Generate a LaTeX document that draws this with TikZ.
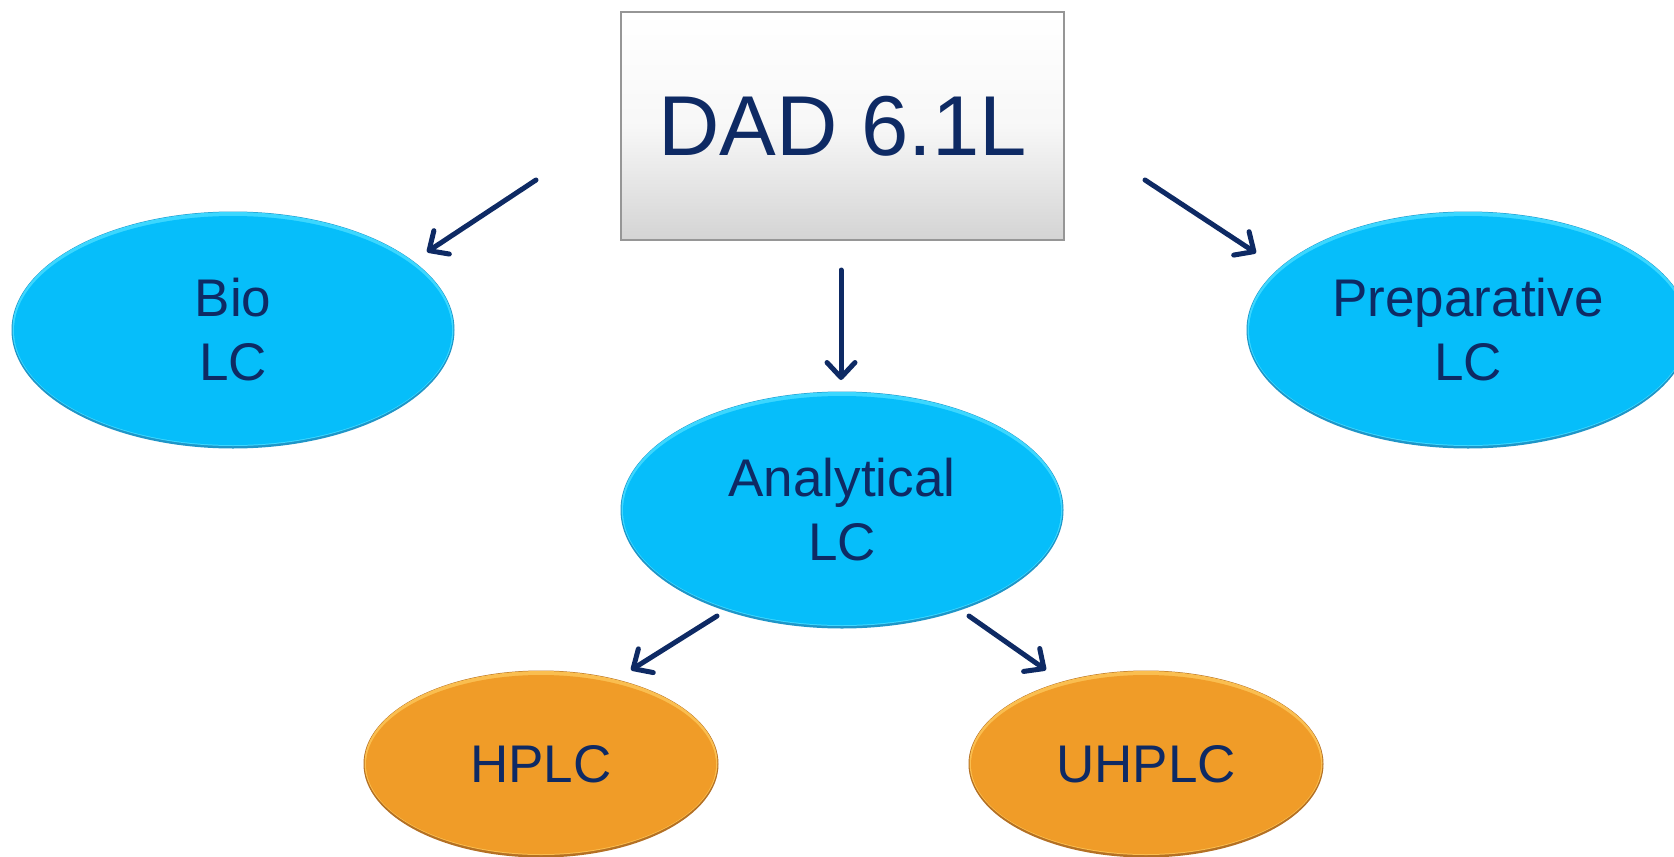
\documentclass[tikz,border=0pt]{standalone}
\usepackage{fontspec}
\setmainfont{Liberation Sans}
\usetikzlibrary{shapes.geometric,arrows.meta}
\definecolor{navy}{RGB}{14,42,100}
\definecolor{cyanfill}{RGB}{6,190,250}
\definecolor{cyanlight}{RGB}{60,215,255}
\definecolor{cyanedge}{RGB}{30,150,200}
\definecolor{orangefill}{RGB}{240,156,40}
\definecolor{orangelight}{RGB}{250,190,80}
\definecolor{orangeedge}{RGB}{180,112,35}
\definecolor{boxedge}{RGB}{150,150,150}
\tikzset{
  ellbase/.style={ellipse, inner sep=0pt, text=navy, align=center,
    font=\fontsize{53}{64}\selectfont},
  blueell/.style={ellbase, fill=cyanedge,
    minimum width=443pt, minimum height=237pt,
    path picture={
      \fill[cyanlight] ([yshift=1pt]path picture bounding box.center) ellipse (220.5 and 117);
      \fill[cyanfill] ([yshift=-0.5pt]path picture bounding box.center) ellipse (219 and 114.5);
    }},
  orangeell/.style={ellbase, fill=orangeedge,
    minimum width=355pt, minimum height=187pt,
    path picture={
      \fill[orangelight] ([yshift=1pt]path picture bounding box.center) ellipse (176.5 and 92);
      \fill[orangefill] ([yshift=-0.5pt]path picture bounding box.center) ellipse (175 and 89.5);
    }},
  topbox/.style={rectangle, top color=white, bottom color=black!17,
    middle color=black!3, draw=boxedge, line width=1.5pt,
    minimum width=443pt, minimum height=228pt, inner sep=0pt,
    text=navy, font=\fontsize{85}{100}\selectfont},
  arr/.style={draw=navy, line width=5pt, line cap=round,
    -{Straight Barb[length=15pt,width=28pt,line width=5pt,line cap=round,line join=round]}}
}
\begin{document}
\begin{tikzpicture}[x=1pt,y=-1pt]
\useasboundingbox (0,0) rectangle (1674,857);
\node[topbox] (dad) at (842.5,126) {DAD 6.1L};
\node[blueell] (bio) at (233,330) {Bio\\LC};
\node[blueell] (prep) at (1468,330) {Preparative\\LC};
\node[blueell] (ana) at (842,510) {Analytical\\LC};
\node[orangeell] (hplc) at (541,764) {HPLC};
\node[orangeell] (uhplc) at (1146,764) {UHPLC};
\coordinate (a1s) at (536,180);
\coordinate (a1e) at (427,252);
\coordinate (a2s) at (1145,180);
\coordinate (a2e) at (1256,253);
\coordinate (a3s) at (841,270);
\coordinate (a3e) at (841,380);
\coordinate (a4s) at (717,616);
\coordinate (a4e) at (631,670);
\coordinate (a5s) at (969,616);
\coordinate (a5e) at (1046,670);
\draw[arr] (a1s) -- (a1e);
\draw[arr] (a2s) -- (a2e);
\draw[arr] (a3s) -- (a3e);
\draw[arr] (a4s) -- (a4e);
\draw[arr] (a5s) -- (a5e);
\end{tikzpicture}
\end{document}
